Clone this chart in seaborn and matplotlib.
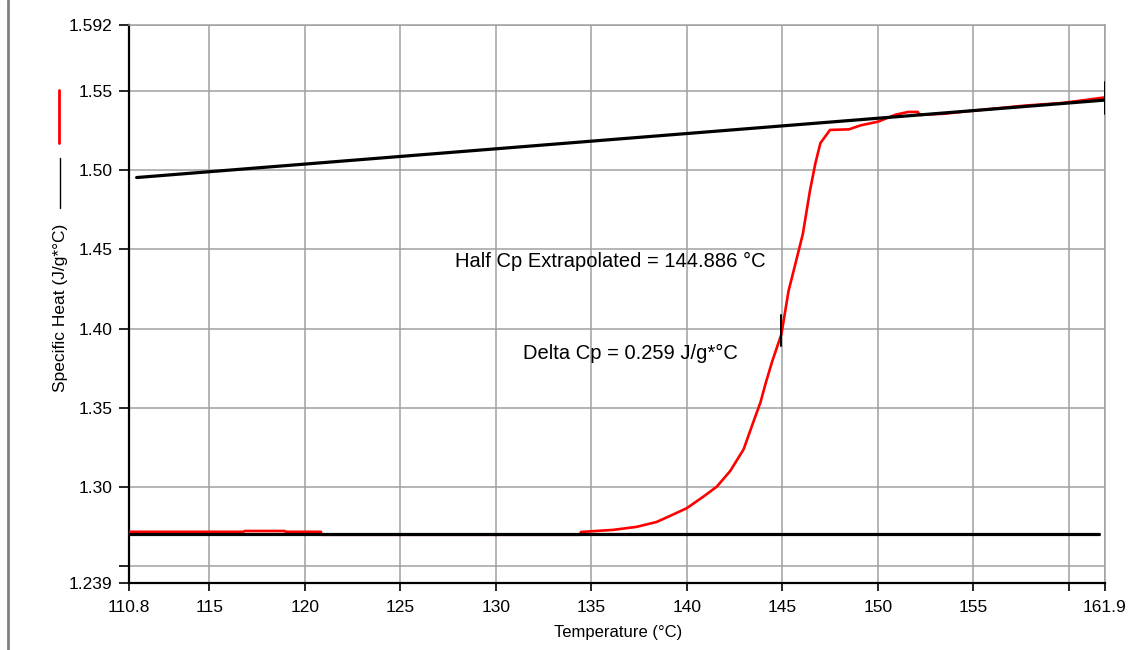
import matplotlib
matplotlib.use("Agg")
import matplotlib.pyplot as plt
from matplotlib.lines import Line2D
import seaborn as sns
import pandas as pd

# ---- data ----
cp_temp = [110.8, 116.8, 116.85, 118.95, 119.0, 120.85, 120.87, 128.0, 134.4,
           134.47, 136.14, 137.37, 138.42, 139.12, 140.0, 140.88, 141.58,
           142.28, 142.98, 143.51, 143.86, 144.12, 144.47, 144.96, 145.33,
           145.7, 146.08, 146.45, 146.74, 147.0, 147.5, 148.5, 149.1, 150.0,
           150.95, 151.6, 152.1, 152.2, 153.5, 155.0, 157.7, 159.7, 161.9]
cp_value = [1.2714, 1.2714, 1.2719, 1.2719, 1.2714, 1.2714, 1.2695, 1.2695, 1.2695,
            1.2713, 1.2726, 1.2745, 1.2776, 1.2814, 1.2863, 1.2937, 1.3000,
            1.3099, 1.3236, 1.3416, 1.3532, 1.3648, 1.3790, 1.3965, 1.4237,
            1.4414, 1.4598, 1.4870, 1.5047, 1.5173, 1.5256, 1.5260, 1.5285, 1.5308,
            1.5353, 1.5370, 1.5370, 1.5351, 1.5359, 1.5378, 1.5410, 1.5427, 1.5462]

upper_base_temp = [111.2, 161.9]
upper_base_value = [1.4955, 1.5445]
lower_base_temp = [110.8, 161.6]
lower_base_value = [1.2700, 1.2700]

half_marker_temp = [144.92, 144.92]
half_marker_value = [1.3890, 1.4085]
end_marker_temp = [161.9, 161.9]
end_marker_value = [1.5360, 1.5560]

x_ticks = [110.8, 115, 120, 125, 130, 135, 140, 145, 150, 155, 160, 161.9]
x_tick_labels = ["110.8", "115", "120", "125", "130", "135", "140", "145",
                 "150", "155", "", "161.9"]
y_ticks = [1.239, 1.25, 1.30, 1.35, 1.40, 1.45, 1.50, 1.55, 1.592]
y_tick_labels = ["1.239", "", "1.30", "1.35", "1.40", "1.45", "1.50", "1.55", "1.592"]

half_cp_text = "Half Cp Extrapolated = 144.886 °C"
delta_cp_text = "Delta Cp = 0.259 J/g*°C"
x_label = "Temperature (°C)"
y_label = "Specific Heat (J/g*°C)"

# ---- styling ----
sns.set_theme(style="white")
plt.rcParams['font.family'] = ['Liberation Sans', 'DejaVu Sans']
plt.rcParams['text.color'] = 'black'

W, H = 1132, 650
fig = plt.figure(figsize=(W / 100, H / 100), dpi=100)
ax = fig.add_axes([129 / W, 1 - 583 / H, (1105 - 129) / W, (583 - 25) / H])

df_cp = pd.DataFrame({"T": cp_temp, "Cp": cp_value})
df_up = pd.DataFrame({"T": upper_base_temp, "Cp": upper_base_value})
df_lo = pd.DataFrame({"T": lower_base_temp, "Cp": lower_base_value})
df_m1 = pd.DataFrame({"T": half_marker_temp, "Cp": half_marker_value})
df_m2 = pd.DataFrame({"T": end_marker_temp, "Cp": end_marker_value})

sns.lineplot(data=df_cp, x="T", y="Cp", ax=ax, color="#ff0000", linewidth=1.9,
             sort=False, estimator=None, zorder=3)
for d in (df_up, df_lo):
    sns.lineplot(data=d, x="T", y="Cp", ax=ax, color="black", linewidth=2.3,
                 sort=False, estimator=None, zorder=4)
for d in (df_m1, df_m2):
    sns.lineplot(data=d, x="T", y="Cp", ax=ax, color="black", linewidth=1.4,
                 sort=False, estimator=None, zorder=5)

ax.set_xlim(110.8, 161.9)
ax.set_ylim(1.239, 1.592)
ax.set_xticks(x_ticks)
ax.set_xticklabels(x_tick_labels, fontsize=12.5, color="black")
ax.set_yticks(y_ticks)
ax.set_yticklabels(y_tick_labels, fontsize=12.5, color="black")
ax.tick_params(axis="x", direction="out", length=6, width=1.2, color="black",
               pad=6, bottom=True)
ax.tick_params(axis="y", direction="out", length=7, width=1.2, color="black",
               pad=5, left=True)
ax.grid(True, color="#a0a0a0", linewidth=1.1)
ax.set_axisbelow(True)

for s in ("left", "bottom"):
    ax.spines[s].set_color("black")
    ax.spines[s].set_linewidth(1.6)
for s in ("top", "right"):
    ax.spines[s].set_color("#a0a0a0")
    ax.spines[s].set_linewidth(1.1)

ax.set_xlabel("")
ax.set_ylabel("")
fig.text(618 / W, 1 - 632 / H, x_label, ha="center", va="center", fontsize=12,
         color="black")
fig.text(60 / W, 1 - 308 / H, y_label, ha="center", va="center", fontsize=12.5,
         rotation=90, color="black")

ax.text(127.87, 1.4427, half_cp_text, ha="left", va="center", fontsize=14.5,
        color="black")
ax.text(131.45, 1.3845, delta_cp_text, ha="left", va="center", fontsize=14.5,
        color="black")

# legend-like segments beside y label
fig.add_artist(Line2D([59 / W, 59 / W], [1 - 90 / H, 1 - 143 / H],
                      color="#ff0000", linewidth=2.0, transform=fig.transFigure))
fig.add_artist(Line2D([60 / W, 60 / W], [1 - 158 / H, 1 - 208 / H],
                      color="black", linewidth=1.0, transform=fig.transFigure))
# left frame line
fig.add_artist(Line2D([7.5 / W, 7.5 / W], [0, 1], color="#808080",
                      linewidth=2.0, transform=fig.transFigure))

fig.savefig("out.png", dpi=100)
